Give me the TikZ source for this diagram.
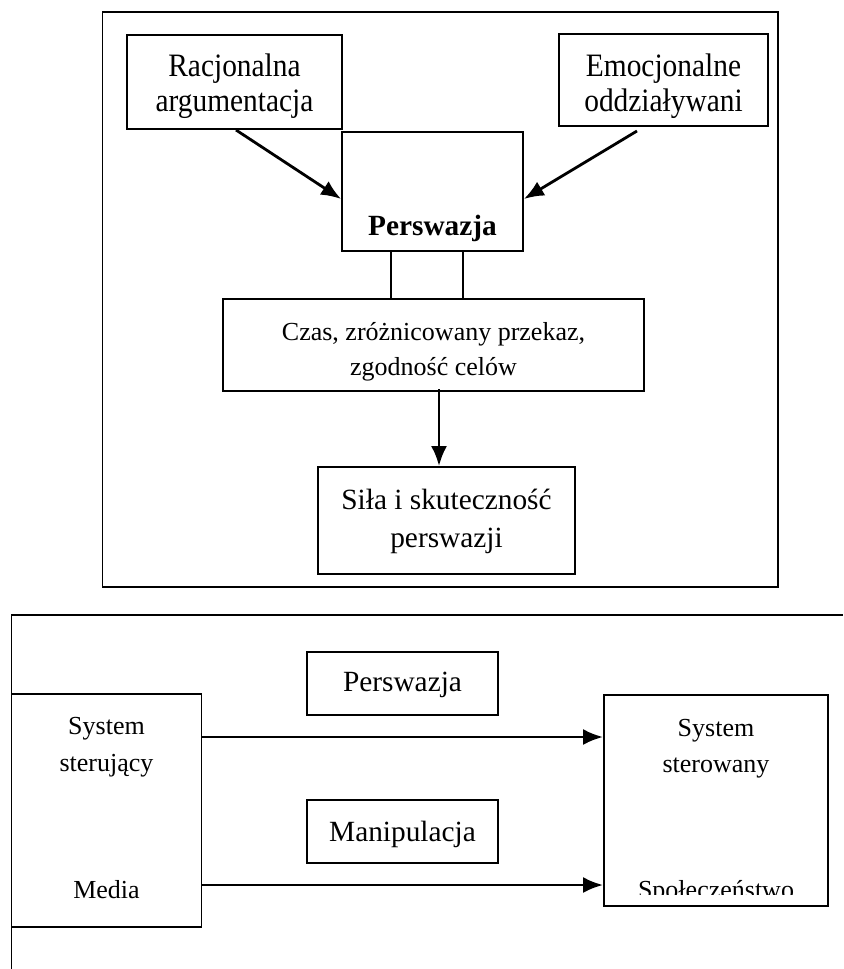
\documentclass[tikz,border=0pt]{standalone}
\usepackage{fontspec}
\setmainfont{Liberation Serif}
\newfontfamily\narrowfont{Liberation Serif}[FakeStretch=0.9]
\usetikzlibrary{arrows.meta}
\newcommand\topgap[1]{\rule{0pt}{#1}}

\begin{document}
\begin{tikzpicture}[x=0.75pt,y=0.75pt,yscale=-1,xscale=1,
    box/.style={draw, line width=1.4pt, inner sep=0pt, align=center},
    tbig/.style={font=\narrowfont\fontsize{24.5}{26.25}\selectfont},
    tmid/.style={font=\fontsize{22}{28.8}\selectfont},
    tsmall/.style={font=\fontsize{19.5}{26.25}\selectfont},
    frame/.style={line width=1.4pt},
    arr/.style={line width=2.1pt, -{Latex[length=15pt,width=12pt]}}]
    \useasboundingbox (0,0) rectangle (843,969);

    %Shape: Rectangle (upper frame)
    \draw [frame] (102.5,12) rectangle (778,587) ;

    % Text Node
    \node [box, tbig, minimum width=161.25pt, minimum height=70.5pt] (racj) at (234.5,82) {\topgap{23.6pt}Racjonalna\\argumentacja};
    % Text Node
    \node [box, tbig, minimum width=156.75pt, minimum height=69pt] (emoc) at (663.5,80) {\topgap{26.6pt}Emocjonalne\\oddziaływani};
    % Text Node
    \node [box, minimum width=135.75pt, minimum height=89.25pt, text height=78pt, text depth=11.25pt, font=\fontsize{22}{26}\selectfont\bfseries] (persw) at (432.5,191.5) {Perswazja};
    % Text Node
    \node [box, tsmall, minimum width=315.75pt, minimum height=69pt] (czas) at (433.5,345) {\topgap{23pt}Czas, zróżnicowany przekaz,\\zgodność celów};
    % Text Node
    \node [box, tmid, minimum width=192.75pt, minimum height=80.25pt] (sila) at (446.5,520.5) {\topgap{17pt}Siła i skuteczność\\perswazji};

    \coordinate (ra) at (236,130) ;
    \coordinate (ea) at (637,131) ;
    \coordinate (pa) at (0,199) ;
    \coordinate (l1) at (391,0) ;
    \coordinate (l2) at (463,0) ;
    \coordinate (l3) at (439,0) ;

    \draw [arr] (ra) -- (persw.west |- pa) ;
    \draw [arr] (ea) -- (persw.east |- pa) ;
    \draw [frame] (persw.south -| l1) -- (czas.north -| l1) ;
    \draw [frame] (persw.south -| l2) -- (czas.north -| l2) ;
    \draw [arr] ([yshift=-2pt]czas.south -| l3) -- (sila.north -| l3) ;

    %Shape: Lines (lower frame, open on the right and below)
    \draw [frame] (11.5,969) -- (11.5,615) -- (843,615) ;

    % Text Node
    \node [box, font=\fontsize{19.5}{27.5}\selectfont, minimum width=142.5pt, minimum height=174.75pt] (steruj) at (106.5,810.5) {System\\sterujący\\[67.5pt]Media\rule[-4.1pt]{0pt}{0pt}};
    % Text Node
    \node [box, tmid, minimum width=143.25pt, minimum height=47.25pt] (pers) at (402.5,683.5) {\topgap{17pt}Perswazja};
    % Text Node
    \node [box, tmid, minimum width=143.25pt, minimum height=47.25pt] (manip) at (402.5,831.5) {\topgap{20pt}Manipulacja};
    % Text Node
    \node [box, minimum width=168pt, minimum height=158.25pt] (ster) at (716,800.5) {};
    % last line is cut off at the bottom
    \begin{scope}
      \clip (600,690) rectangle (830,894) ;
      \node [box, draw=none, font=\fontsize{19.5}{26.8}\selectfont, anchor=north] (sterT) at (716,709.3) {\topgap{20pt}System\\sterowany\\[67.7pt]Społeczeństwo};
    \end{scope}

    \coordinate (b1) at (0,737) ;
    \coordinate (b2) at (0,885) ;
    \draw [arr] (steruj.east |- b1) -- (ster.west |- b1) ;
    \draw [arr] (steruj.east |- b2) -- (ster.west |- b2) ;

\end{tikzpicture}
\end{document}
